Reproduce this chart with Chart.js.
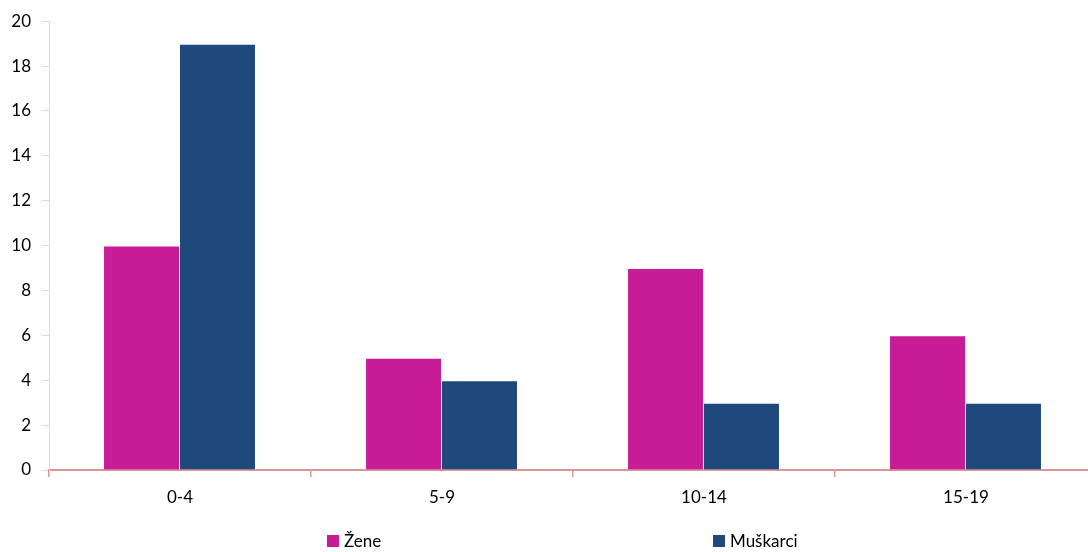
<!DOCTYPE html>
<html>
<head>
<meta charset="utf-8">
<script src="https://cdn.jsdelivr.net/npm/chart.js@4/dist/chart.umd.min.js"></script>
<style>
  html, body { margin: 0; padding: 0; background: #fff; overflow: hidden; width: 1088px; height: 552px; }
  #wrap { position: absolute; left: 0; top: 0; width: 1100px; height: 552px; }
  .leg { position: absolute; top: 530px; font-family: Lato, "Open Sans", sans-serif; font-size: 17px; color: #000; display: flex; align-items: center; }
  .leg i { display: inline-block; width: 12px; height: 12px; margin-right: 5px; }
</style>
</head>
<body>
<div id="wrap"><canvas id="c"></canvas></div>
<div class="leg" style="left:327px;"><i style="background:#C71C96"></i><span>Žene</span></div>
<div class="leg" style="left:713px;"><i style="background:#1F497D"></i><span>Muškarci</span></div>
<script>
const categories = ['0-4', '5-9', '10-14', '15-19'];
const zene = [10, 5, 9, 6];
const muskarci = [19, 4, 3, 3];
const yTicks = [0, 2, 4, 6, 8, 10, 12, 14, 16, 18, 20];

const edge = { top: 1, right: 1, bottom: 0, left: 0 };
new Chart(document.getElementById('c'), {
  type: 'bar',
  data: {
    labels: categories,
    datasets: [
      { label: 'Žene', data: zene, backgroundColor: '#C71C96', borderColor: 'rgba(255,255,255,0.35)', borderWidth: edge, borderSkipped: false, categoryPercentage: 0.58, barPercentage: 1 },
      { label: 'Muškarci', data: muskarci, backgroundColor: '#1F497D', borderColor: 'rgba(255,255,255,0.35)', borderWidth: edge, borderSkipped: false, categoryPercentage: 0.58, barPercentage: 1 }
    ]
  },
  options: {
    responsive: true,
    maintainAspectRatio: false,
    animation: false,
    layout: { padding: { top: 20, right: 3, bottom: 42, left: 0 } },
    plugins: { legend: { display: false }, tooltip: { enabled: false } },
    scales: {
      x: {
        grid: { offset: true, drawOnChartArea: false, drawTicks: true, tickLength: 7, color: '#D99694', lineWidth: 1.5 },
        border: { color: '#D99694', width: 2 },
        ticks: { color: '#000', font: { family: 'Lato', size: 17 }, padding: 10 },
        afterFit: s => { s.height = 40; }
      },
      y: {
        min: 0, max: 20,
        afterBuildTicks: s => { s.ticks = yTicks.map(v => ({ value: v })); },
        grid: { drawOnChartArea: false, drawTicks: true, tickLength: 7, color: '#F2D0D3' },
        border: { color: '#F2D0D3', width: 1 },
        ticks: { color: '#000', font: { family: 'Lato', size: 17 }, padding: 11 },
        afterFit: s => { s.width = 49; }
      }
    }
  }
});
</script>
</body>
</html>
